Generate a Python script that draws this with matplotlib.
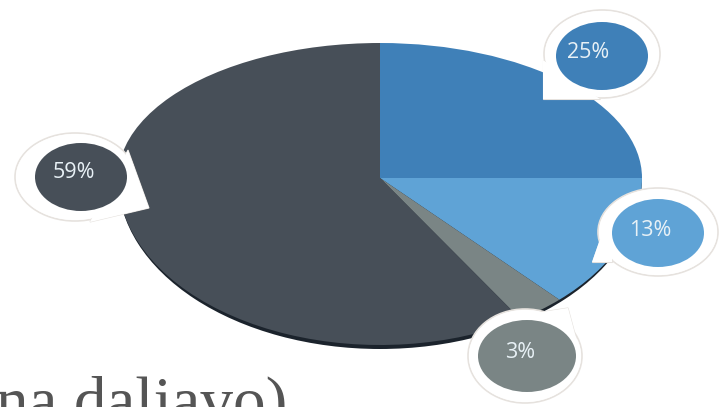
import matplotlib.pyplot as plt
from matplotlib.patches import Ellipse, Polygon

W, H = 721, 407

shares = [25, 13, 3, 59]
colors = ["#3f80b8", "#5fa3d6", "#7a8585", "#474f58"]
edge_color = "#1b232c"
ring_color = "#e6e2de"

# callout layout in pixels: inner centre, inner radii, outer centre, outer radii
inner_xy = [(602, 56), (658, 233), (527, 356), (81, 177)]
inner_r = [(46, 34), (46, 34), (49, 36), (46, 34)]
outer_xy = [(602, 54), (658, 232), (525, 356), (75, 177)]
outer_r = [(58, 44), (60, 44), (57, 47), (60, 44)]
label_xy = [(588, 53), (650, 230), (520, 352), (74, 173)]
pointers = [
    [(543, 60), (543, 99), (600, 99)],
    [(592, 262), (612, 262), (612, 205)],
    [(568, 308), (490, 320), (578, 345)],
    [(128, 150), (149, 208), (90, 222)],
]

# pie apex sits above the middle of the ellipse, so top and bottom halves differ
cx, cy, rx = 380, 178, 262
ry_top, ry_bottom = 135, 167


def px_axes(fig, x0, y0, x1, y1):
    return fig.add_axes([x0 / W, 1 - y1 / H, (x1 - x0) / W, (y1 - y0) / H])


def half_pie(ax, values, cols, ylim, **kw):
    wedges, _ = ax.pie(values, colors=cols, radius=1, startangle=90, **kw)
    for w in wedges:
        w.set_clip_on(True)
    ax.set_aspect("auto")
    ax.set_xlim(-1, 1)
    ax.set_ylim(*ylim)


fig = plt.figure(figsize=(W / 100, H / 100), dpi=100, facecolor="white")

# dark rim under the bottom half
rim = px_axes(fig, cx - rx, cy, cx + rx, cy + ry_bottom + 4)
half_pie(rim, [1], [edge_color], (-1, 0))

top = px_axes(fig, cx - rx, cy - ry_top, cx + rx, cy)
half_pie(top, shares, colors, (0, 1), counterclock=False)

bottom = px_axes(fig, cx - rx, cy, cx + rx, cy + ry_bottom)
half_pie(bottom, shares, colors, (-1, 0), counterclock=False)

overlay = px_axes(fig, 0, 0, W, H)
overlay.set_xlim(0, W)
overlay.set_ylim(H, 0)
overlay.axis("off")
overlay.patch.set_alpha(0)

for i, share in enumerate(shares):
    ox, oy = outer_xy[i]
    orx, ory = outer_r[i]
    # outlines first, white fills on top so the ring runs round circle + pointer
    overlay.add_patch(Ellipse((ox, oy), 2 * orx, 2 * ory, facecolor="white",
                              edgecolor=ring_color, lw=1.2))
    overlay.add_patch(Polygon(pointers[i], closed=True, facecolor="white",
                              edgecolor=ring_color, lw=0.8))
    overlay.add_patch(Ellipse((ox, oy), 2 * orx - 2, 2 * ory - 2, facecolor="white",
                              edgecolor="none"))
    overlay.add_patch(Polygon(pointers[i], closed=True, facecolor="white",
                              edgecolor="none"))
    ix, iy = inner_xy[i]
    irx, iry = inner_r[i]
    overlay.add_patch(Ellipse((ix, iy), 2 * irx, 2 * iry, facecolor=colors[i],
                              edgecolor="none"))
    lx, ly = label_xy[i]
    overlay.text(lx, ly, f"{share}%", color="#e8f1f6", fontsize=15.5,
                 family="Open Sans", ha="center", va="center")

# caption runs off the bottom edge in the reference
overlay.text(287, 422, "na daljavo)", family="Liberation Serif", fontsize=47,
             color="#555555", ha="right", va="baseline", clip_on=True)

fig.savefig("out.png", dpi=100)
